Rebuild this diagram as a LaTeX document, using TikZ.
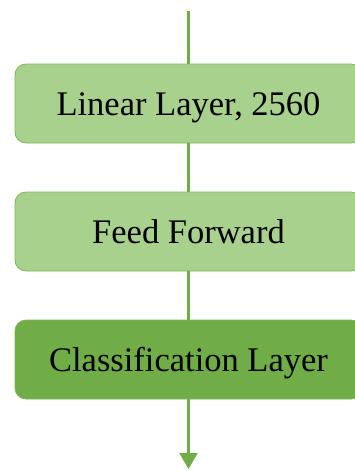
\documentclass[tikz,border=0pt]{standalone}
\usepackage{fontspec}
\setmainfont{Liberation Serif}[Ligatures=NoCommon]
\usetikzlibrary{arrows.meta}
\definecolor{lightg}{HTML}{A9D18E}
\definecolor{darkg}{HTML}{70AD47}
\definecolor{edgeg}{HTML}{7FB55A}
\tikzset{
  layerbox/.style={draw=edgeg, line width=0.8pt, rounded corners=11pt,
    minimum width=347pt, minimum height=79pt, inner sep=0pt,
    text height=24pt, text depth=1pt,
    font=\fontsize{34.5}{40}\selectfont, text=black},
  flow/.style={draw=darkg, line width=2.2pt}
}
\begin{document}
\begin{tikzpicture}[x=1pt,y=-1pt]
\useasboundingbox (0,0) rectangle (354,471);
\coordinate (top) at (188.5,11);
\coordinate (bot) at (188.5,469);
\node[layerbox, fill=lightg] (lin) at (188.5,103.5) {Linear Layer, 2560};
\node[layerbox, fill=lightg] (ff) at (188.5,231.5) {Feed Forward};
\node[layerbox, fill=darkg] (cls) at (188.5,359.5) {Classification Layer};
\draw[flow] (top) -- (lin.north);
\draw[flow] (lin.south) -- (ff.north);
\draw[flow] (ff.south) -- (cls.north);
\draw[flow, -{Triangle[width=18pt,length=16pt]}] (cls.south) -- (bot);
\end{tikzpicture}
\end{document}
